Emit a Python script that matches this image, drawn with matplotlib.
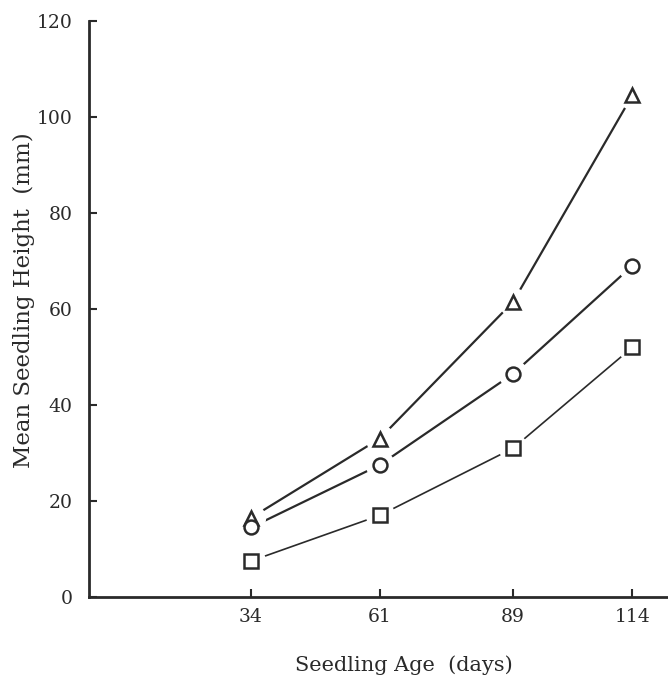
import matplotlib
matplotlib.use("Agg")
import matplotlib.pyplot as plt

# seedling age (days) and mean height (mm) for three treatments
age = [34, 61, 89, 114]
height_triangle = [16.5, 33, 61.5, 104.5]
height_circle = [14.5, 27.5, 46.5, 69]
height_square = [7.5, 17, 31, 52]

y_ticks = [0, 20, 40, 60, 80, 100, 120]

ink = "#2a2a2a"
plt.rcParams["font.family"] = ["DejaVu Serif"]

fig = plt.figure(figsize=(6.68, 6.81), dpi=100)
ax = fig.add_axes([89 / 668, 84 / 681, 1 - 89 / 668, 576 / 681])

series = [
    (height_triangle, "^", 1.6),
    (height_circle, "o", 1.6),
    (height_square, "s", 1.2),
]

for values, marker, lw in series:
    ax.plot(age, values, color=ink, linewidth=lw, zorder=1)
    # white halo leaves a small gap between line ends and the marker
    ax.plot(age, values, linestyle="none", marker="o", markersize=21,
            markerfacecolor="white", markeredgecolor="none", zorder=2)
for values, marker, lw in series:
    ax.plot(age, values, linestyle="none", marker=marker, markersize=10,
            markerfacecolor="white", markeredgecolor=ink,
            markeredgewidth=1.8, zorder=3)

ax.set_xlim(0, 121.5)
ax.set_ylim(0, 120)
ax.set_xticks(age)
ax.set_yticks(y_ticks)

for side in ["top", "right"]:
    ax.spines[side].set_visible(False)
for side in ["left", "bottom"]:
    ax.spines[side].set_linewidth(2)
    ax.spines[side].set_color(ink)

ax.tick_params(axis="both", direction="in", length=6, width=1.5,
               colors=ink, labelsize=13.5)
ax.tick_params(axis="y", pad=12)
ax.tick_params(axis="x", pad=8)

ax.set_xlabel("Seedling Age  (days)", fontsize=15, color=ink, va="center")
ax.set_ylabel("Mean Seedling Height  (mm)", fontsize=16.5, color=ink, va="center")
ax.xaxis.set_label_coords(0.544, -0.118)
ax.yaxis.set_label_coords(-0.112, 0.516)

fig.savefig("out.png", dpi=100)
